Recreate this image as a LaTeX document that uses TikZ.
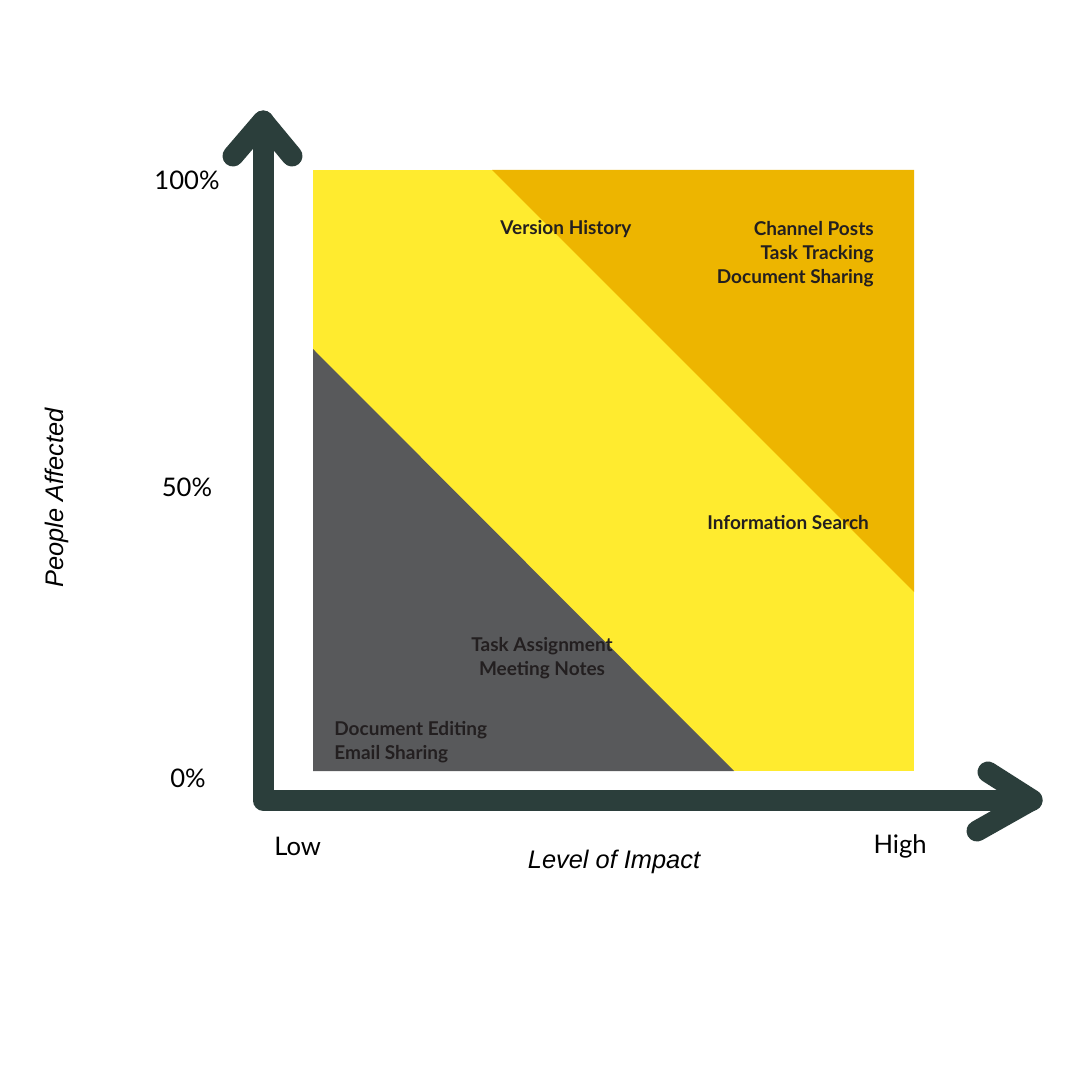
\documentclass[tikz,border=0pt]{standalone}
\usepackage{fontspec}
\setmainfont{Lato}
\newfontfamily\titlefont{Liberation Sans}
\usetikzlibrary{positioning}
\definecolor{lowc}{RGB}{88,89,91}
\definecolor{midc}{RGB}{255,235,47}
\definecolor{highc}{RGB}{237,181,0}
\definecolor{axisc}{RGB}{43,62,59}
\definecolor{inkc}{RGB}{35,31,32}
\tikzset{
  axisline/.style={draw=axisc, line width=10.5pt, line cap=round, line join=round},
  ticklbl/.style={font=\fontsize{12.8}{15}\selectfont, text=black, inner sep=0pt},
  item/.style={font=\fontsize{9.5}{12}\selectfont\bfseries, text=inkc, inner sep=0pt},
  axtitle/.style={font=\titlefont\itshape\fontsize{12.7}{15}\selectfont, text=black, inner sep=0pt},
}

\begin{document}
\begin{tikzpicture}[x=0.5pt, y=-0.5pt]

  \useasboundingbox[fill=white] (0,0) rectangle (1080,1080);

  % the square and its three bands
  \coordinate (nw) at (313,170);
  \coordinate (ne) at (914,170);
  \coordinate (se) at (914,771);
  \coordinate (sw) at (313,771);
  \fill[midc] (nw) rectangle (se);
  \fill[highc] (492,170) -- (ne) -- (914,592) -- cycle;
  \fill[lowc] (313,349) -- (734,771) -- (sw) -- cycle;

  % axes
  \coordinate (origin) at (263,800);
  \coordinate (ytip) at (263,121);
  \coordinate (xtip) at (1032,800);
  \draw[axisline] (ytip) -- (origin) -- (xtip);
  \draw[axisline] (233,156) -- (ytip) -- (292,156);
  \draw[axisline] (988,772) -- (xtip) -- (977,831);

  % scale
  \node[ticklbl] (top) at (187,180) {100\%};
  \node[ticklbl] (half) at (187,487) {50\%};
  \node[ticklbl] (zero) at (188,778) {0\%};
  \node[ticklbl, anchor=west] (low) at (274,846) {Low};
  \node[ticklbl, anchor=east] (high) at (927,846) {High};
  \node[axtitle] (xtitle) at (614,862) {Level of Impact};
  \node[axtitle, rotate=90] (ytitle) at (57,498) {People Affected};

  % items
  \node[item, anchor=base west] (version) at (500,235) {Version History};
  \node[item, anchor=north east, align=right] (channel) at (874,221)
    {Channel Posts\\Task Tracking\\Document Sharing};
  \node[item, anchor=base west] (search) at (707,529) {Information Search};
  \node[item, anchor=north, align=center] (assign) at (542,637)
    {Task Assignment\\Meeting Notes};
  \node[item, anchor=north west, align=left] (editing) at (334,721)
    {Document Editing\\Email Sharing};

\end{tikzpicture}
\end{document}
